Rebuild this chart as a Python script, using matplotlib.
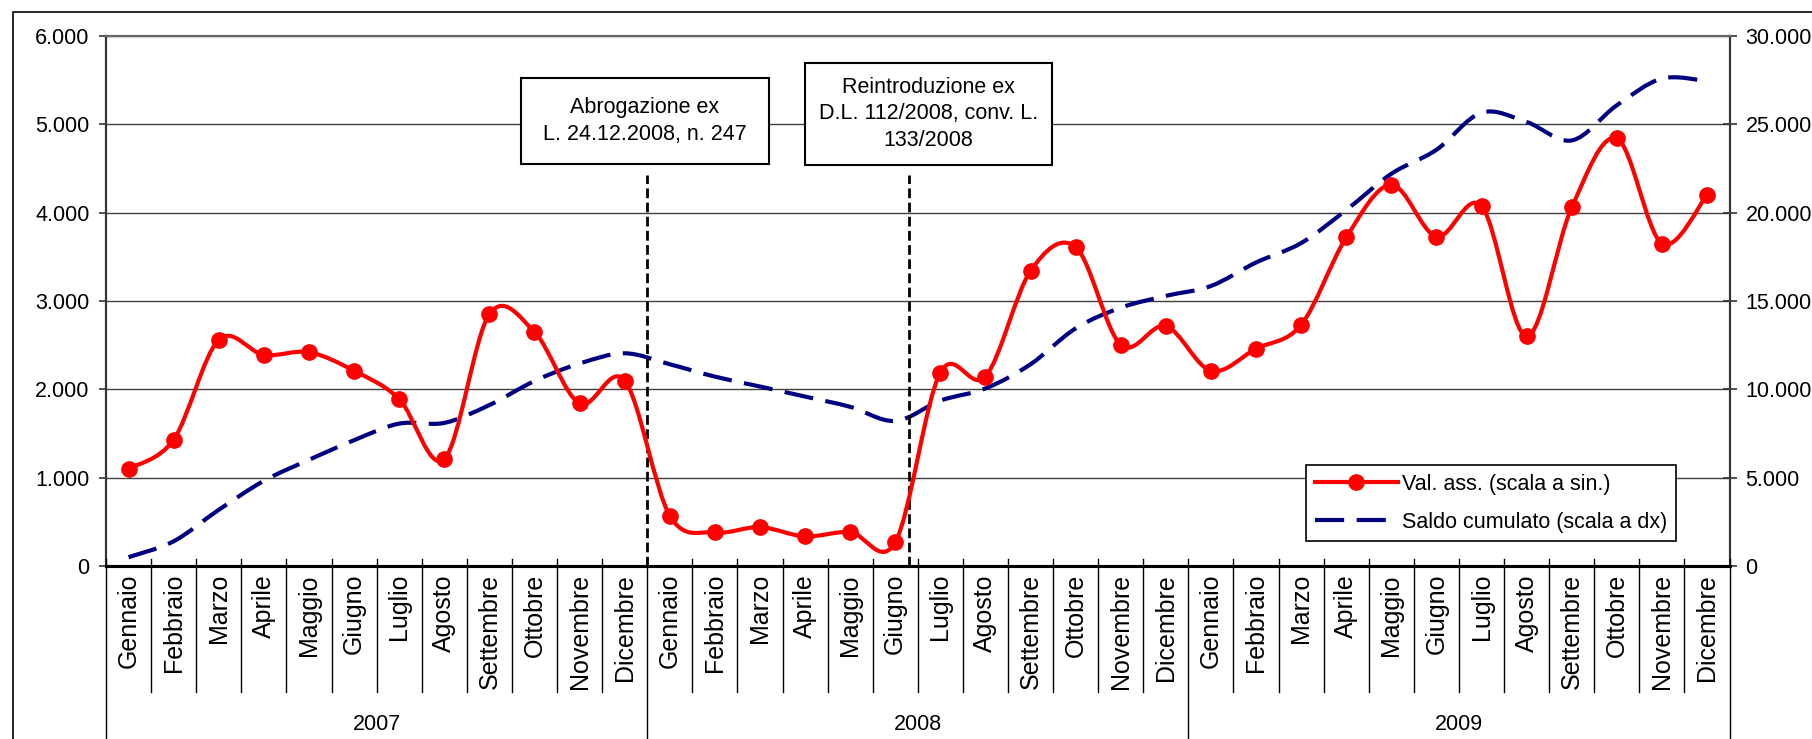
import numpy as np
import matplotlib
matplotlib.use("Agg")
from matplotlib import pyplot as plt
from matplotlib.path import Path
from matplotlib.patches import PathPatch, Rectangle
from matplotlib.lines import Line2D
from matplotlib.ticker import FuncFormatter, MultipleLocator
from matplotlib.transforms import blended_transform_factory

plt.rcParams['font.family'] = ['Liberation Sans', 'DejaVu Sans']

# --- data ---
MONTHS = ['Gennaio', 'Febbraio', 'Marzo', 'Aprile', 'Maggio', 'Giugno',
          'Luglio', 'Agosto', 'Settembre', 'Ottobre', 'Novembre', 'Dicembre']
YEARS = ['2007', '2008', '2009']

# Val. ass. (left scale)
val_ass = [1100, 1430, 2560, 2390, 2420, 2210, 1890, 1210, 2850, 2650, 1840, 2100,
           570, 380, 440, 335, 385, 270, 2190, 2145, 3340, 3610, 2505, 2715,
           2210, 2460, 2730, 3720, 4315, 3730, 4075, 2600, 4060, 4840, 3650, 4200]

# Saldo cumulato (right scale)
saldo = [500, 1400, 3180, 4820, 6010, 7120, 8060, 8100, 9110, 10470, 11460, 12040,
         11420, 10720, 10160, 9590, 9010, 8210, 9360, 10050, 11420, 13450, 14620, 15290,
         15850, 17180, 18280, 20150, 22200, 23560, 25660, 25130, 24090, 26080, 27590, 27440]

# law changes (category position, top of marker line on left scale)
event_x = [11.5, 17.31]
event_top = 4430
event_labels = ['Abrogazione ex\nL. 24.12.2008, n. 247',
                'Reintroduzione ex\nD.L. 112/2008, conv. L.\n133/2008']

W, H = 1812, 739
FS = 15.5


def smooth_path(xs, ys):
    """Excel-like smoothed line: Catmull-Rom segments as cubic Beziers."""
    pts = np.column_stack([xs, ys]).astype(float)
    n = len(pts)
    verts = [pts[0]]
    codes = [Path.MOVETO]
    for i in range(n - 1):
        p0 = pts[max(i - 1, 0)]
        p1 = pts[i]
        p2 = pts[i + 1]
        p3 = pts[min(i + 2, n - 1)]
        verts += [p1 + (p2 - p0) / 6, p2 - (p3 - p1) / 6, p2]
        codes += [Path.CURVE4] * 3
    return Path(verts, codes)


def fx(px):
    return px / W


def fy(py):
    return 1 - py / H


fig = plt.figure(figsize=(W / 100, H / 100), dpi=100)
ax_left, ax_right, ax_top, ax_bot = 106, 1729.6, 36, 566
ax = fig.add_axes([fx(ax_left), fy(ax_bot), fx(ax_right - ax_left), (ax_bot - ax_top) / H])
ax2 = ax.twinx()

n = len(val_ass)
x = np.arange(n)

# right axis (drawn underneath): grid + saldo cumulato
ax2.set_ylim(0, 30000)
ax2.yaxis.set_major_locator(MultipleLocator(5000))
ax2.grid(axis='y', color='#404040', lw=1.0)
ax2.set_axisbelow(True)
ax2.add_patch(PathPatch(smooth_path(x, saldo), fill=False, edgecolor='#000080',
                        lw=3, linestyle=(0, (7, 3)), capstyle='butt', zorder=3))

# left axis on top: val. ass.
ax.set_zorder(ax2.get_zorder() + 1)
ax.patch.set_visible(False)
ax.set_xlim(-0.5, n - 0.5)
ax.set_ylim(0, 6000)
ax.yaxis.set_major_locator(MultipleLocator(1000))
ax.add_patch(PathPatch(smooth_path(x, val_ass), fill=False, edgecolor='red',
                       lw=3, capstyle='round', zorder=4))
ax.plot(x, val_ass, 'o', color='red', ms=11, zorder=5)

for ex in event_x:
    ax.plot([ex, ex], [0, event_top], color='black', lw=2, linestyle=(0, (3.5, 1.6)),
            zorder=3)

fmt = FuncFormatter(lambda v, p: f"{v:,.0f}".replace(',', '.'))
ax.yaxis.set_major_formatter(fmt)
ax2.yaxis.set_major_formatter(fmt)
ax.tick_params(axis='y', direction='out', length=5.3, width=1.2, pad=6.5,
               labelsize=FS, color='#333333')
ax2.tick_params(axis='y', direction='inout', length=10, width=1.2, pad=6.5,
                labelsize=FS, color='#333333')
ax.set_xticks([])
ax2.set_xticks([])

for a in (ax, ax2):
    a.spines['left'].set_color('#333333')
    a.spines['left'].set_linewidth(1.5)
    a.spines['right'].set_color('#333333')
    a.spines['right'].set_linewidth(1.5)
    a.spines['top'].set_color('#666666')
    a.spines['top'].set_linewidth(1.5)
    a.spines['bottom'].set_color('black')
    a.spines['bottom'].set_linewidth(2.2)

# two-level category axis
ah = ax_bot - ax_top


def ay(py):
    return (ax_bot - py) / ah


trans = blended_transform_factory(ax.transData, ax.transAxes)
for b in range(n + 1):
    bx = b - 0.5
    bottom = ay(745) if b % 12 == 0 else ay(692)
    ax.plot([bx, bx], [ay(559), bottom], color='black', lw=1.0,
            transform=trans, clip_on=False, zorder=6)

for i in range(n):
    ax.text(i, ay(574), MONTHS[i % 12], rotation=90, ha='center', va='top',
            fontsize=18, transform=trans)
for k, yr in enumerate(YEARS):
    ax.text(12 * k + 5.5, ay(724), yr, ha='center', va='center', fontsize=FS,
            transform=trans)

# legend
handles = [Line2D([], [], color='red', lw=3, marker='o', ms=11),
           Line2D([], [], color='#000080', lw=3, linestyle=(0, (7, 3)))]
leg = ax.legend(handles, ['Val. ass. (scala a sin.)', 'Saldo cumulato (scala a dx)'],
                loc='upper left', bbox_to_anchor=(fx(1306), fy(465)),
                bbox_transform=fig.transFigure, borderaxespad=0,
                fontsize=FS, frameon=True, fancybox=False, framealpha=1,
                edgecolor='black', handlelength=3.86, handletextpad=0.2,
                borderpad=0.4, labelspacing=0.8)
leg.get_frame().set_linewidth(1.2)
leg.set_zorder(10)

# annotation boxes
boxes = [(521, 78, 769, 164), (805, 63, 1052, 165)]
for (x0, y0, x1, y1), label in zip(boxes, event_labels):
    fig.add_artist(Rectangle((fx(x0), fy(y1)), fx(x1 - x0), (y1 - y0) / H,
                             transform=fig.transFigure, facecolor='white',
                             edgecolor='black', lw=1.5, zorder=5))
    fig.text(fx((x0 + x1) / 2), fy((y0 + y1) / 2), label, ha='center', va='center',
             fontsize=FS, linespacing=1.35, zorder=6)

# chart-area border
fig.add_artist(Line2D([fx(12.5), fx(12.5), 1.0], [0.0, fy(11.7), fy(11.7)],
                      transform=fig.transFigure, color='black', lw=1.2))

fig.savefig('out.png', dpi=100)
